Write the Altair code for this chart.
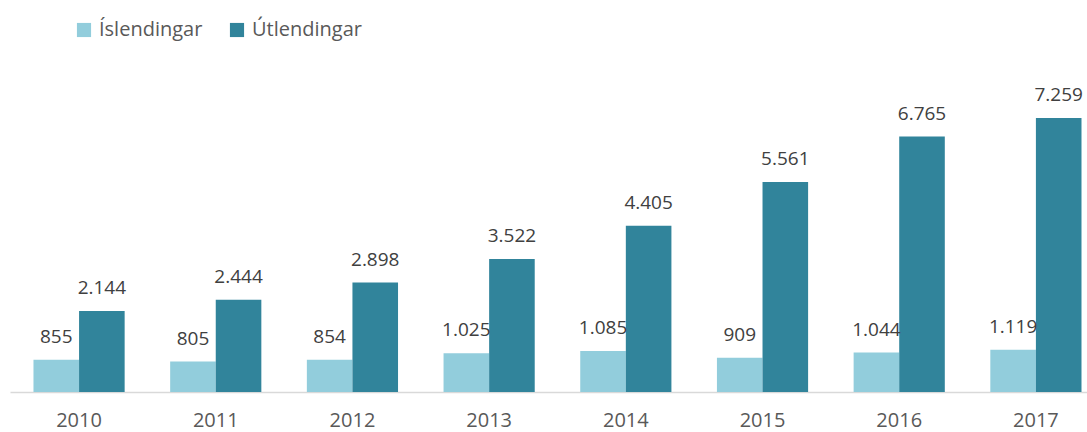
import altair as alt
import pandas as pd

years = ["2010", "2011", "2012", "2013", "2014", "2015", "2016", "2017"]
series = ["Íslendingar", "Útlendingar"]
islendingar = [855, 805, 854, 1025, 1085, 909, 1044, 1119]
utlendingar = [2144, 2444, 2898, 3522, 4405, 5561, 6765, 7259]
colors = ["#92CDDC", "#31849B"]


def fmt(v):
    return f"{v:,}".replace(",", ".")


rows = []
for i, y in enumerate(years):
    rows.append({"year": y, "series": series[0], "value": islendingar[i], "label": fmt(islendingar[i])})
    rows.append({"year": y, "series": series[1], "value": utlendingar[i], "label": fmt(utlendingar[i])})
df = pd.DataFrame(rows)

FONT = "Open Sans"

x = alt.X("year:N", sort=years, title=None,
          scale=alt.Scale(paddingInner=0.333, paddingOuter=0.106, align=0.81),
          axis=alt.Axis(labelAngle=0, ticks=False, domainColor="#d9d9d9", domainWidth=1.5,
                        labelFontSize=20, labelColor="#595959", labelPadding=18, labelFont=FONT))
xo = alt.XOffset("series:N", sort=series, scale=alt.Scale(paddingInner=0, paddingOuter=0))
y = alt.Y("value:Q", scale=alt.Scale(domain=[0, 8000]), axis=None)

base = alt.Chart(df)
bars = base.mark_bar().encode(
    x=x, xOffset=xo, y=y,
    color=alt.Color("series:N", sort=series,
                    scale=alt.Scale(domain=series, range=colors),
                    legend=alt.Legend(title=None, orient="none", legendX=64, legendY=-70,
                                      direction="horizontal", symbolType="square", symbolSize=200,
                                      symbolStrokeWidth=0, labelFontSize=20, labelColor="#595959",
                                      labelFont=FONT, columnPadding=24, labelOffset=5)),
)
texts = base.mark_text(baseline="alphabetic", dy=-17, fontSize=19, color="#404040", font=FONT).encode(
    x=x, xOffset=xo, y=y, text="label:N"
)

chart = (bars + texts).properties(
    width=1077, height=302,
    padding={"left": 10, "top": 90, "right": 0, "bottom": 40},
    autosize=alt.AutoSizeParams(type="none"),
    background="white",
).configure_view(strokeWidth=0)

chart.save("out.html", embed_options={"renderer": "svg", "actions": False})
